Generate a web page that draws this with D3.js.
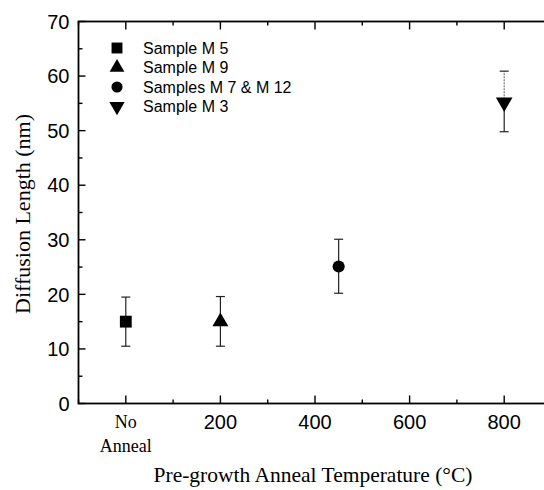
<!DOCTYPE html>
<html>
<head>
<meta charset="utf-8">
<script src="https://cdnjs.cloudflare.com/ajax/libs/d3/7.8.5/d3.min.js"></script>
<style>
  body { margin: 0; background: #fff; }
  svg { display: block; }
  .sans { font-family: "Liberation Sans", Arial, sans-serif; }
  .serif { font-family: "Liberation Serif", "Times New Roman", serif; }
</style>
</head>
<body>
<svg id="chart" width="544" height="490"></svg>
<script>
// data
var samples = ['Sample M 5', 'Sample M 9', 'Samples M 7 & M 12', 'Sample M 3'];
var symbols = ['square', 'triangle', 'circle', 'triangleDown'];
var temps = [0, 200, 450, 800];          // 0 is "No Anneal"
var lengths = [15, 15, 25.1, 55.2];
var err_lo = [10.5, 10.5, 20.2, 49.8];
var err_hi = [19.5, 19.6, 30.1, 60.9];

var x_ticks = [0, 200, 400, 600, 800];
var x_minor = [-100, 100, 300, 500, 700, 900];
var y_ticks = [0, 10, 20, 30, 40, 50, 60, 70];
var y_minor = [5, 15, 25, 35, 45, 55, 65];

var svg = d3.select('#chart');
var p_left = 78.5, p_right = 551.5, p_top = 21.5, p_bottom = 403.5;

var x = d3.scaleLinear().domain([-100, 900]).range([p_left, p_right]);
var y = d3.scaleLinear().domain([0, 70]).range([p_bottom, p_top]);

var draw_ticks = function(vals, len, side) {
    vals.forEach(function(v) {
        var l = svg.append('line').attr('stroke', '#000').attr('stroke-width', 1.4);
        if (side == 'bottom') l.attr('x1', x(v)).attr('x2', x(v)).attr('y1', p_bottom).attr('y2', p_bottom - len);
        if (side == 'top') l.attr('x1', x(v)).attr('x2', x(v)).attr('y1', p_top).attr('y2', p_top + len);
        if (side == 'left') l.attr('x1', p_left).attr('x2', p_left + len).attr('y1', y(v)).attr('y2', y(v));
        if (side == 'right') l.attr('x1', p_right).attr('x2', p_right - len).attr('y1', y(v)).attr('y2', y(v));
    });
};

// frame
svg.append('rect')
    .attr('x', p_left).attr('y', p_top)
    .attr('width', p_right - p_left).attr('height', p_bottom - p_top)
    .attr('fill', 'none').attr('stroke', '#000').attr('stroke-width', 1.8);

draw_ticks(x_ticks, 8, 'bottom');
draw_ticks(x_minor, 4, 'bottom');
draw_ticks(x_ticks, 8, 'top');
draw_ticks(x_minor, 4, 'top');
draw_ticks(y_ticks, 7, 'left');
draw_ticks(y_minor, 4, 'left');
draw_ticks(y_ticks, 7, 'right');
draw_ticks(y_minor, 4, 'right');

// y tick labels
svg.selectAll('text.ylab')
    .data(y_ticks)
    .enter()
    .append('text')
    .attr('class', 'ylab sans')
    .attr('x', p_left - 9)
    .attr('y', function(d) { return y(d); })
    .attr('dy', '0.36em')
    .attr('text-anchor', 'end')
    .attr('font-size', 20)
    .text(function(d) { return d; });

// x tick labels
x_ticks.forEach(function(d) {
    if (d == 0) {
        svg.append('text').attr('class', 'serif')
            .attr('x', x(d)).attr('y', 428)
            .attr('text-anchor', 'middle').attr('font-size', 18)
            .text('No');
        svg.append('text').attr('class', 'serif')
            .attr('x', x(d)).attr('y', 452)
            .attr('text-anchor', 'middle').attr('font-size', 18)
            .text('Anneal');
    } else {
        svg.append('text').attr('class', 'sans')
            .attr('x', x(d)).attr('y', 429)
            .attr('text-anchor', 'middle').attr('font-size', 20)
            .text(d);
    }
});

// axis titles
svg.append('text').attr('class', 'serif')
    .attr('x', 313).attr('y', 482)
    .attr('text-anchor', 'middle').attr('font-size', 21.5)
    .text('Pre-growth Anneal Temperature (°C)');

svg.append('text').attr('class', 'serif')
    .attr('transform', 'translate(30,214) rotate(-90)')
    .attr('text-anchor', 'middle').attr('font-size', 22)
    .text('Diffusion Length (nm)');

var sym_type = {
    square: d3.symbolSquare,
    triangle: d3.symbolTriangle,
    circle: d3.symbolCircle,
    triangleDown: d3.symbolTriangle
};
var sym_size = { square: 140, triangle: 110, circle: 115, triangleDown: 120 };

var make_symbol = function(name) {
    return d3.symbol().type(sym_type[name]).size(sym_size[name])();
};

// error bars
temps.forEach(function(t, i) {
    var cx = x(t);
    var col = '#222';
    svg.append('line')
        .attr('x1', cx).attr('x2', cx)
        .attr('y1', y(err_lo[i])).attr('y2', y(lengths[i]))
        .attr('stroke', col).attr('stroke-width', 1.2);
    svg.append('line')
        .attr('x1', cx).attr('x2', cx)
        .attr('y1', y(lengths[i])).attr('y2', y(err_hi[i]))
        .attr('stroke', i == 3 ? '#777' : col).attr('stroke-width', 1.2)
        .attr('stroke-dasharray', i == 3 ? '2,1' : null);
    [err_lo[i], err_hi[i]].forEach(function(v) {
        svg.append('line')
            .attr('x1', cx - 4.5).attr('x2', cx + 4.5)
            .attr('y1', y(v)).attr('y2', y(v))
            .attr('stroke', col).attr('stroke-width', 1.2);
    });
});

// markers
svg.selectAll('path.marker')
    .data(temps)
    .enter()
    .append('path')
    .attr('class', 'marker')
    .attr('d', function(d, i) { return make_symbol(symbols[i]); })
    .attr('transform', function(d, i) {
        var r = symbols[i] == 'triangleDown' ? ' rotate(180)' : '';
        return 'translate(' + x(d) + ',' + y(lengths[i]) + ')' + r;
    })
    .attr('fill', '#000');

// legend
var leg_x = 117, leg_y = 48, leg_step = 19.5;
samples.forEach(function(s, i) {
    var yy = leg_y + i * leg_step;
    var r = symbols[i] == 'triangleDown' ? ' rotate(180)' : '';
    svg.append('path')
        .attr('d', d3.symbol().type(sym_type[symbols[i]]).size(sym_size[symbols[i]] * 0.85)())
        .attr('transform', 'translate(' + leg_x + ',' + yy + ')' + r)
        .attr('fill', '#000');
    svg.append('text').attr('class', 'sans')
        .attr('x', 143).attr('y', yy).attr('dy', '0.36em')
        .attr('font-size', 16)
        .text(s);
});
</script>
</body>
</html>
